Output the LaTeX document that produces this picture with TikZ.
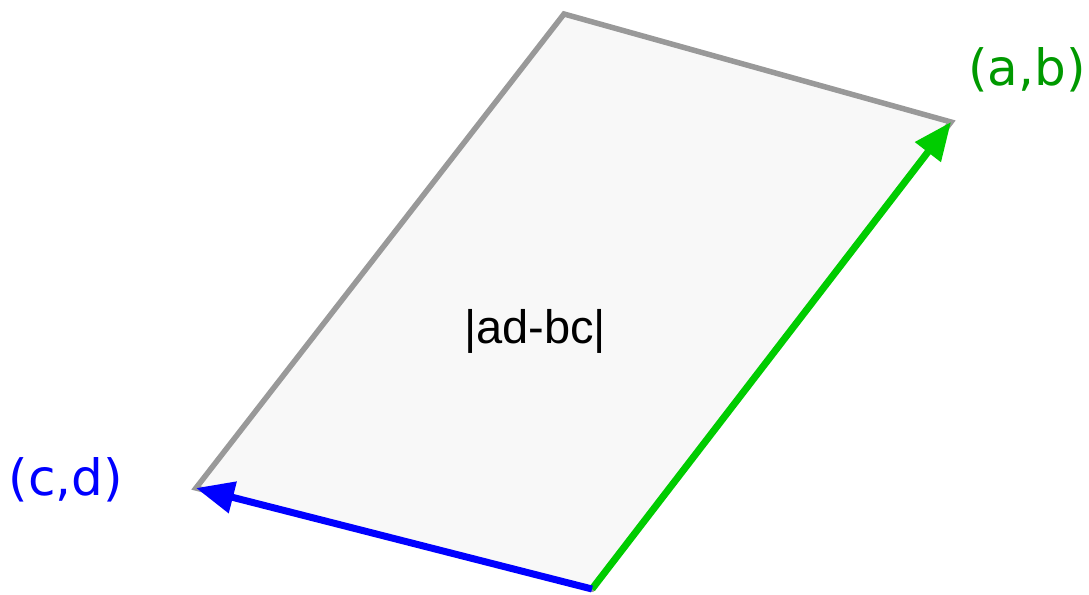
\documentclass[tikz,border=0pt]{standalone}
\usepackage{fontspec}
\setmainfont{Liberation Sans}
\newfontfamily\labelfont{DejaVu Sans}
\usetikzlibrary{arrows.meta}
\definecolor{edgegray}{HTML}{999999}
\definecolor{fillgray}{HTML}{F8F8F8}
\definecolor{vgreen}{HTML}{00CC00}
\definecolor{lgreen}{HTML}{009900}
\definecolor{vblue}{HTML}{0000FF}
\tikzset{
  edge/.style={draw=edgegray, line width=5.5pt, line join=miter, fill=fillgray},
  vecarrow/.style={line width=7pt, -{Triangle[length=38pt,width=31pt]}},
  veclabel/.style={font=\labelfont\fontsize{50}{54}\selectfont, inner sep=0pt},
  arealabel/.style={font=\fontsize{47}{52}\selectfont, inner sep=0pt}
}
\begin{document}
\begin{tikzpicture}[x=1pt,y=-1pt]
\useasboundingbox (0,0) rectangle (1089,594);
\coordinate (O) at (592,589);
\coordinate (R) at (951,122);
\coordinate (T) at (564,14);
\coordinate (L) at (196,488);
\path[edge] (O) -- (R) -- (T) -- (L) -- cycle;
\draw[vecarrow, draw=vgreen, fill=vgreen] (O) -- (R);
\draw[vecarrow, draw=vblue, fill=vblue] (O) -- (L);
\node[veclabel, text=lgreen] (ab) at (1027,70) {(a,b)};
\node[veclabel, text=vblue] (cd) at (66,480) {(c,d)};
\node[arealabel] (area) at (535,331) {|ad-bc|};
\end{tikzpicture}
\end{document}
